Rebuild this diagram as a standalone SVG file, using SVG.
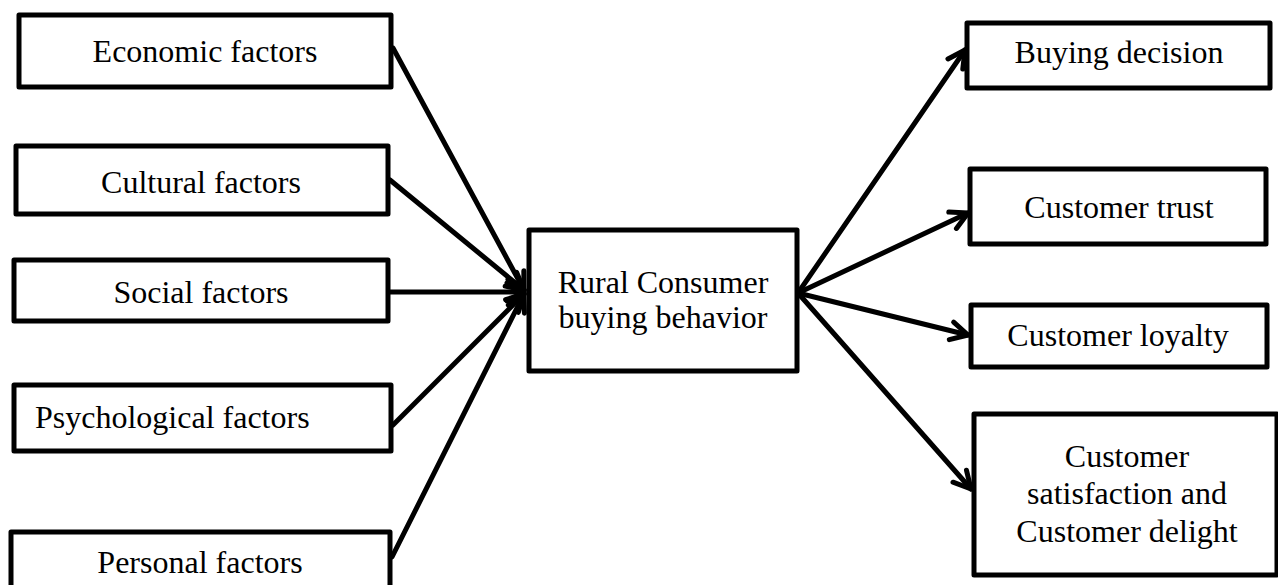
<svg xmlns="http://www.w3.org/2000/svg" width="1278" height="585" viewBox="0 0 1278 585">
<style>
.box{fill:#fff;stroke:#000;stroke-width:5;stroke-linejoin:round}
.t{font-family:"Liberation Serif","Times New Roman",serif;font-size:32px;fill:#000;text-anchor:middle}
.c{fill:none;stroke:#000;stroke-width:5;stroke-linecap:round}
</style>
<defs>
<marker id="arr" markerUnits="userSpaceOnUse" markerWidth="36" markerHeight="36" viewBox="-24 -18 36 36" refX="0" refY="0" orient="auto">
<path d="M-17,-9 L0,0 L-17,9" fill="none" stroke="#000" stroke-width="5" stroke-linecap="round" stroke-linejoin="round"/>
</marker>
</defs>
<rect width="1278" height="585" fill="#fff"/>
<g id="connectors">
<line class="c" x1="393" y1="48" x2="524" y2="290" marker-end="url(#arr)"/>
<line class="c" x1="390" y1="180" x2="524" y2="290" marker-end="url(#arr)"/>
<line class="c" x1="390" y1="292" x2="524" y2="292" marker-end="url(#arr)"/>
<line class="c" x1="393" y1="425" x2="524" y2="294" marker-end="url(#arr)"/>
<line class="c" x1="392" y1="557" x2="524" y2="294" marker-end="url(#arr)"/>
<line class="c" x1="798" y1="293" x2="965" y2="50" marker-end="url(#arr)"/>
<line class="c" x1="798" y1="293" x2="968" y2="213" marker-end="url(#arr)"/>
<line class="c" x1="798" y1="293" x2="968" y2="335" marker-end="url(#arr)"/>
<line class="c" x1="798" y1="293" x2="971" y2="489" marker-end="url(#arr)"/>
</g>
<g id="economic">
<rect class="box" x="19" y="15" width="372" height="72"/>
<text class="t" x="205" y="62">Economic factors</text>
</g>
<g id="cultural">
<rect class="box" x="16" y="146" width="372" height="68"/>
<text class="t" x="201" y="193">Cultural factors</text>
</g>
<g id="social">
<rect class="box" x="14" y="260" width="374" height="61"/>
<text class="t" x="201" y="303">Social factors</text>
</g>
<g id="psychological">
<rect class="box" x="14" y="385" width="377" height="66"/>
<text class="t" x="35" y="428" style="text-anchor:start">Psychological factors</text>
</g>
<g id="personal">
<rect class="box" x="11" y="532" width="379" height="60"/>
<text class="t" x="200" y="573">Personal factors</text>
</g>
<g id="center">
<rect class="box" x="529" y="230" width="268" height="141"/>
<text class="t" x="663" y="293">Rural Consumer</text>
<text class="t" x="663" y="328">buying behavior</text>
</g>
<g id="buying">
<rect class="box" x="967" y="23" width="303" height="65"/>
<text class="t" x="1119" y="63">Buying decision</text>
</g>
<g id="trust">
<rect class="box" x="970" y="169" width="296" height="75"/>
<text class="t" x="1119" y="218">Customer trust</text>
</g>
<g id="loyalty">
<rect class="box" x="971" y="305" width="296" height="62"/>
<text class="t" x="1118" y="346">Customer loyalty</text>
</g>
<g id="satisfaction">
<rect class="box" x="974" y="414" width="303" height="161"/>
<text class="t" x="1127" y="467">Customer</text>
<text class="t" x="1127" y="504">satisfaction and</text>
<text class="t" x="1127" y="542">Customer delight</text>
</g>
</svg>
